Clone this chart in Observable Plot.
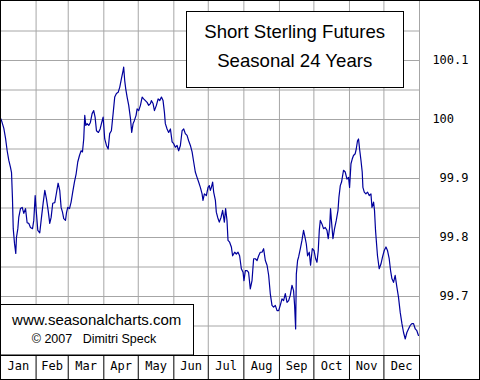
<!DOCTYPE html>
<html><head><meta charset="utf-8">
<script src="https://cdn.jsdelivr.net/npm/d3@7"></script>
<script src="https://cdn.jsdelivr.net/npm/@observablehq/plot@0.6"></script>
<style>
html,body{margin:0;padding:0;background:#fff;}
#wrap{position:relative;width:480px;height:380px;overflow:hidden;background:#fff;}
#wrap > svg{position:absolute;left:0;top:0;}
#overlay{position:absolute;left:0;top:0;pointer-events:none;}
#overlay text{font-family:"Liberation Sans",Arial,sans-serif;fill:#000;}
</style>
</head><body>
<div id="wrap"></div>
<script>
// Month categories and month boundaries (day of year)
const months = ["Jan","Feb","Mar","Apr","May","Jun","Jul","Aug","Sep","Oct","Nov","Dec"];
const monthStart = [0,31,59,90,120,151,181,212,243,273,304,334,365];

// Right-axis tick values and their labels
const labelPrices = [99.7, 99.8, 99.9, 100, 100.1];
const labelText = ["99.7", "99.8", "99.9", "100\u00a0\u00a0", "100.1"];
// Horizontal grid values
const gridPrices = [99.65, 99.7, 99.75, 99.8, 99.85, 99.9, 99.95, 100, 100.05, 100.1, 100.15];

// Seasonal series: day of year and price
const day = [
  0, 0.9, 2.9, 4.4, 5.8, 7.2, 8.7, 9.6, 10.4, 11.1,
  12.2, 13.3, 13.9, 15.1, 15.9, 17.4, 18.9, 20.3, 21.8, 23.2,
  24.6, 26.1, 27.9, 29.0, 30.2, 31.1, 32.5, 34.2, 35.7, 37.2,
  38.6, 40.0, 41.5, 42.9, 44.1, 45.5, 47.3, 48.7, 50.2, 51.6,
  52.8, 54.0, 55.1, 56.6, 57.5, 58.6, 60.1, 61.5, 62.9, 64.4,
  65.9, 67.3, 68.8, 70.2, 71.4, 72.5, 73.4, 74.3, 75.5, 76.9,
  78.3, 79.8, 81.2, 82.4, 83.6, 85.3, 86.8, 88.2, 89.4, 90.8,
  92.3, 93.8, 95.1, 96.6, 98.1, 99.5, 101.0, 102.5, 103.9, 105.3,
  106.8, 107.3, 108.2, 109.1, 110.3, 111.7, 113.2, 114.3, 115.5, 116.6,
  118.1, 119.0, 120.4, 121.9, 123.4, 124.7, 126.2, 127.7, 129.1, 130.6,
  131.4, 132.9, 134.1, 135.8, 137.3, 138.7, 140.2, 141.6, 142.8, 143.6,
  145.1, 146.5, 148.0, 149.5, 150.9, 152.3, 153.8, 155.2, 156.7, 158.2,
  159.6, 161.0, 162.5, 163.9, 165.4, 166.9, 168.3, 169.7, 171.2, 172.6,
  174.1, 175.6, 176.4, 177.6, 179.3, 180.8, 181.9, 182.8, 183.7, 184.8,
  185.7, 187.2, 188.0, 189.2, 190.6, 192.1, 193.5, 195.0, 196.1, 197.3,
  198.2, 199.6, 201.1, 202.2, 204.0, 205.4, 206.9, 208.3, 209.8, 211.3,
  212.1, 213.3, 214.8, 216.1, 217.6, 219.1, 220.5, 222.0, 223.5, 224.9,
  226.3, 227.8, 229.2, 230.7, 232.2, 233.6, 235.0, 236.5, 237.9, 239.4,
  240.9, 242.3, 243.7, 245.2, 246.6, 248.1, 249.6, 251.0, 252.4, 253.9,
  255.3, 256.2, 257.1, 257.7, 258.8, 259.7, 261.2, 262.6, 264.0, 265.2,
  266.4, 267.5, 269.0, 270.1, 271.6, 273.1, 274.5, 275.7, 276.8, 277.7,
  278.6, 280.0, 281.4, 282.9, 284.4, 285.5, 286.7, 287.5, 288.4, 289.6,
  291.0, 292.5, 294.0, 294.8, 296.0, 297.1, 298.8, 300.3, 301.8, 303.2,
  304.1, 305.3, 306.4, 307.5, 309.0, 309.9, 311.0, 311.9, 312.8, 314.0,
  315.1, 315.7, 316.9, 318.3, 319.7, 321.2, 322.7, 323.6, 325.0, 325.8,
  326.7, 327.6, 328.4, 329.9, 331.4, 332.8, 334.3, 335.8, 337.1, 338.6,
  339.8, 341.0, 342.4, 343.8, 345.3, 346.7, 348.2, 349.7, 351.1, 352.6,
  354.0, 355.4, 356.9, 358.4, 359.8, 361.3, 362.7, 364.1
];
const price = [
  100.002, 99.998, 99.985, 99.968, 99.947, 99.931, 99.919, 99.910, 99.868, 99.815,
  99.790, 99.773, 99.800, 99.815, 99.834, 99.849, 99.851, 99.841, 99.849, 99.825,
  99.824, 99.817, 99.815, 99.829, 99.871, 99.846, 99.812, 99.808, 99.834, 99.859,
  99.880, 99.866, 99.846, 99.824, 99.834, 99.858, 99.859, 99.875, 99.892, 99.880,
  99.851, 99.843, 99.832, 99.829, 99.842, 99.851, 99.849, 99.860, 99.877, 99.894,
  99.908, 99.928, 99.939, 99.947, 99.945, 99.967, 100.007, 99.990, 99.993, 99.990,
  99.995, 100.010, 100.015, 100.004, 99.981, 99.978, 99.984, 99.995, 100.004, 99.967,
  99.956, 99.950, 99.976, 99.981, 100.010, 100.038, 100.044, 100.046, 100.055, 100.069,
  100.083, 100.089, 100.066, 100.052, 100.038, 100.024, 100.002, 99.978, 99.993, 99.998,
  100.007, 100.018, 100.015, 100.024, 100.038, 100.035, 100.032, 100.029, 100.024, 100.027,
  100.032, 100.027, 100.015, 100.024, 100.035, 100.032, 100.038, 100.032, 100.012, 99.993,
  99.984, 99.978, 99.984, 99.962, 99.959, 99.953, 99.956, 99.947, 99.956, 99.981,
  99.984, 99.976, 99.973, 99.964, 99.956, 99.945, 99.928, 99.911, 99.902, 99.894,
  99.885, 99.874, 99.863, 99.874, 99.871, 99.885, 99.888, 99.880, 99.885, 99.894,
  99.877, 99.863, 99.843, 99.834, 99.826, 99.834, 99.846, 99.826, 99.849, 99.829,
  99.795, 99.792, 99.784, 99.769, 99.775, 99.772, 99.775, 99.769, 99.747, 99.741,
  99.727, 99.744, 99.744, 99.741, 99.713, 99.727, 99.764, 99.764, 99.761, 99.769,
  99.775, 99.775, 99.781, 99.761, 99.753, 99.736, 99.705, 99.685, 99.682, 99.685,
  99.676, 99.676, 99.685, 99.696, 99.693, 99.705, 99.690, 99.693, 99.702, 99.719,
  99.710, 99.685, 99.645, 99.738, 99.761, 99.767, 99.781, 99.795, 99.812, 99.801,
  99.789, 99.769, 99.775, 99.753, 99.781, 99.778, 99.764, 99.758, 99.778, 99.812,
  99.829, 99.823, 99.815, 99.817, 99.812, 99.798, 99.817, 99.849, 99.826, 99.798,
  99.815, 99.829, 99.846, 99.868, 99.888, 99.894, 99.914, 99.911, 99.899, 99.902,
  99.885, 99.925, 99.933, 99.939, 99.942, 99.950, 99.964, 99.967, 99.950, 99.931,
  99.911, 99.885, 99.877, 99.874, 99.877, 99.871, 99.874, 99.851, 99.860, 99.846,
  99.812, 99.789, 99.769, 99.747, 99.755, 99.767, 99.778, 99.784, 99.778, 99.764,
  99.744, 99.730, 99.724, 99.736, 99.716, 99.699, 99.673, 99.654, 99.639, 99.628,
  99.639, 99.645, 99.651, 99.654, 99.654, 99.645, 99.642, 99.634
];

const data = day.map((d, i) => ({day: d, price: price[i]}));
const mids = months.map((m, i) => (monthStart[i] + monthStart[i + 1]) / 2);

const gridColor = "#a6a6a6";
const chart = Plot.plot({
  width: 480, height: 380,
  marginLeft: 0, marginRight: 61, marginTop: 1, marginBottom: 25,
  x: {domain: [0, 365]},
  y: {domain: [99.6, 100.2], axis: null},
  style: {background: "transparent", fontFamily: "'DejaVu Sans Mono', monospace", fontSize: "12px", color: "#000"},
  marks: [
    Plot.gridX(monthStart.slice(1), {stroke: gridColor, strokeOpacity: 1}),
    Plot.gridY(gridPrices, {stroke: gridColor, strokeOpacity: 1}),
    Plot.ruleY([99.6], {stroke: "#000"}),
    Plot.axisX(monthStart, {tickSize: 25, stroke: "#000", tickFormat: () => "", label: null}),
    Plot.axisX(mids, {tickSize: 0, tickPadding: 6, tickFormat: d => months[mids.indexOf(d)], label: null, fill: "#000"}),
    Plot.text(labelPrices, {y: d => d, frameAnchor: "right", dx: 49, textAnchor: "end", text: (d, i) => labelText[i], fill: "#000"}),
    Plot.line(data, {x: "day", y: "price", stroke: "#00009c", strokeWidth: 1.2})
  ]
});
const wrap = document.getElementById("wrap");
wrap.appendChild(chart);

// Annotation overlay: title box, watermark box, outer border
const ns = "http://www.w3.org/2000/svg";
const ov = document.createElementNS(ns, "svg");
ov.setAttribute("id", "overlay");
ov.setAttribute("width", 480);
ov.setAttribute("height", 380);
ov.innerHTML = `
  <rect x="186.5" y="11.5" width="217" height="76" fill="#fff" stroke="#000"/>
  <text x="294.7" y="38" text-anchor="middle" font-size="18.6">Short Sterling Futures</text>
  <text x="294.7" y="67" text-anchor="middle" font-size="18.6">Seasonal 24 Years</text>
  <rect x="0.5" y="304.5" width="193" height="50.5" fill="#fff" stroke="#000"/>
  <text x="96.7" y="325" text-anchor="middle" font-size="15">www.seasonalcharts.com</text>
  <text x="94" y="343" text-anchor="middle" font-size="12.5" xml:space="preserve" style="white-space:pre">© 2007   Dimitri Speck</text>
  <rect x="0.5" y="0.5" width="479" height="379" fill="none" stroke="#000"/>
`;
wrap.appendChild(ov);
</script>
</body></html>
